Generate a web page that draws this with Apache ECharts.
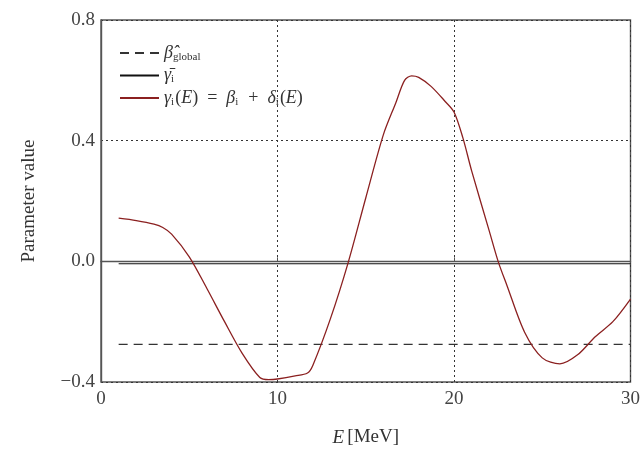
<!DOCTYPE html>
<html>
<head>
<meta charset="utf-8">
<script src="https://cdn.jsdelivr.net/npm/echarts@6/dist/echarts.min.js"></script>
<style>
  html, body { margin: 0; padding: 0; background: #fff; }
  #chart { width: 643px; height: 454px; }
</style>
</head>
<body>
<div id="chart"></div>
<script>
// energies (MeV) and curve values
var energy = [1, 2, 3, 3.5, 4, 5, 6, 7, 8, 9, 9.5, 10, 11, 11.7, 12, 13, 14, 15, 16, 16.7, 17.2, 17.6, 18, 18.7, 19.5, 20, 20.5, 21, 22, 22.5, 23, 24, 25, 26, 27, 28, 29, 30];
var gamma = [0.143, 0.135, 0.123, 0.112, 0.09, 0.015, -0.09, -0.2, -0.305, -0.385, -0.392, -0.39, -0.38, -0.37, -0.345, -0.19, -0.005, 0.21, 0.42, 0.525, 0.6, 0.615, 0.61, 0.58, 0.53, 0.495, 0.41, 0.3, 0.1, 0, -0.08, -0.235, -0.32, -0.34, -0.31, -0.25, -0.2, -0.125];
var lineRange = [1, 30];
var betaGlobal = -0.275;
var gammaMean = -0.008;
var xTicks = [0, 10, 20, 30];
var yTicks = [-0.4, 0.0, 0.4, 0.8];

var names = ['betaGlobal', 'gammaMean', 'gammaE'];

var chart = echarts.init(document.getElementById('chart'));

var pts = energy.map(function (e, i) { return [e, gamma[i]]; });
var flat = function (v) { return lineRange.map(function (e) { return [e, v]; }); };

var serif = '"Liberation Serif", "DejaVu Serif", serif';

var options = {
    animation: false,
    grid: {
        left: 101, right: 10, top: 20, bottom: 72,
        show: true, borderColor: '#555', borderWidth: 1.4
    },
    legend: {
        orient: 'vertical',
        left: 114, top: 39,
        itemWidth: 39, itemHeight: 10, itemGap: 4,
        data: names,
        itemStyle: { opacity: 0 },
        formatter: function (n) {
            if (n === 'betaGlobal') return '{it|β̂}{sub|global}';
            if (n === 'gammaMean') return '{it|γ̄}{sub|i}';
            return '{it|γ}{sub|i}{rm|(}{it|E}{rm|)\u2002=\u2002}{it|β}{sub|i}{rm|\u2002+\u2002}{it|δ}{sub|i}{rm|(}{it|E}{rm|)}';
        },
        textStyle: {
            color: '#333',
            rich: {
                it: { fontFamily: serif, fontStyle: 'italic', fontSize: 18, color: '#333' },
                rm: { fontFamily: serif, fontSize: 18, color: '#333' },
                sub: { fontFamily: serif, fontSize: 11, color: '#333', padding: [8, 1, 0, 0] }
            }
        }
    },
    xAxis: {
        type: 'value',
        min: 0, max: 30, interval: 10,
        name: '{it|E} {rm|[MeV]}',
        nameLocation: 'middle',
        nameGap: 46,
        nameTextStyle: {
            rich: {
                it: { fontFamily: serif, fontStyle: 'italic', fontSize: 19, color: '#333' },
                rm: { fontFamily: serif, fontSize: 19, color: '#333' }
            }
        },
        axisLine: { show: true, lineStyle: { color: '#555', width: 1.4 } },
        axisTick: { show: true, inside: true, length: 4, lineStyle: { color: '#555' } },
        axisLabel: {
            fontFamily: serif, fontSize: 19, color: '#444', margin: 8,
            formatter: function (v) { return xTicks.indexOf(v) >= 0 ? String(v) : ''; }
        },
        splitLine: { show: true, lineStyle: { color: '#333', type: [2, 3], width: 1 } }
    },
    yAxis: {
        type: 'value',
        min: -0.4, max: 0.8, interval: 0.4,
        name: 'Parameter value',
        nameLocation: 'middle',
        nameGap: 62,
        nameTextStyle: { fontFamily: serif, fontSize: 19, color: '#333' },
        axisLine: { show: true, lineStyle: { color: '#555', width: 1.4 } },
        axisTick: { show: false },
        axisLabel: {
            fontFamily: serif, fontSize: 19, color: '#444', margin: 6,
            formatter: function (v) {
                var t = yTicks.filter(function (y) { return Math.abs(y - v) < 1e-6; });
                if (!t.length) return '';
                return (v < 0 ? '\u2212' : '') + Math.abs(v).toFixed(1);
            }
        },
        splitLine: { show: true, lineStyle: { color: '#333', type: [2, 3], width: 1 } }
    },
    series: [
        {
            name: 'betaGlobal',
            type: 'line',
            symbol: 'none',
            data: flat(betaGlobal),
            itemStyle: { color: '#333' },
            lineStyle: { color: '#333', width: 1.2, type: [9, 6] }
        },
        {
            name: 'gammaMean',
            type: 'line',
            symbol: 'none',
            data: flat(gammaMean),
            itemStyle: { color: '#111' },
            lineStyle: { color: '#111', width: 1.2 }
        },
        {
            name: 'gammaE',
            type: 'line',
            symbol: 'none',
            smooth: 0.3,
            data: pts,
            itemStyle: { color: '#8b2020' },
            lineStyle: { color: '#8b2020', width: 1.3 }
        }
    ]
};
chart.setOption(options);
</script>
</body>
</html>
